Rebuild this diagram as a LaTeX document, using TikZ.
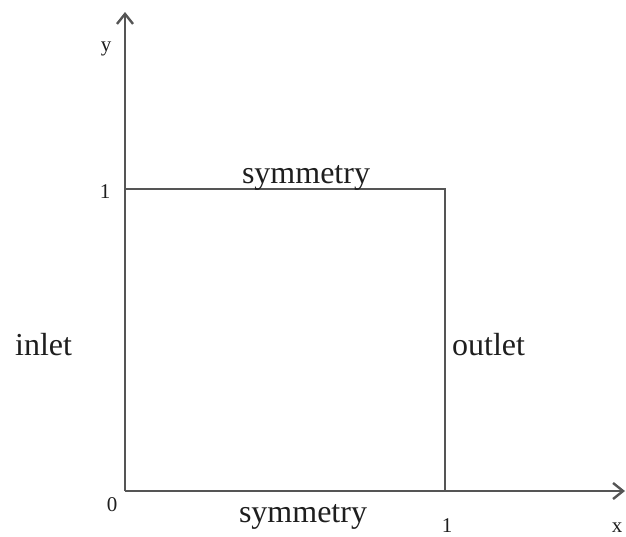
\documentclass[tikz,border=0pt]{standalone}
\usepackage{fontspec}
\setmainfont{Liberation Serif}
\usetikzlibrary{arrows.meta}
\definecolor{axisgray}{RGB}{85,85,85}
\definecolor{textgray}{RGB}{30,30,30}
\begin{document}
\begin{tikzpicture}[x=1pt,y=-1pt,
  axisline/.style={draw=axisgray,line width=2.6pt},
  axisarrow/.style={axisline,-{Straight Barb[length=10pt,width=16pt,line width=2.4pt]}},
  biglabel/.style={inner sep=0pt,anchor=base,text=textgray,font=\fontsize{32}{36}\selectfont},
  smalllabel/.style={inner sep=0pt,anchor=base,text=textgray,font=\fontsize{21}{25}\selectfont}]
\useasboundingbox (0,0) rectangle (626,536);
\coordinate (O) at (125,491);
\coordinate (TL) at (125,189);
\coordinate (TR) at (445,189);
\coordinate (BR) at (445,491);
\coordinate (yend) at (125,12);
\coordinate (xend) at (625,491);
\draw[axisarrow] (O) -- (yend);
\draw[axisarrow] (O) -- (xend);
\draw[axisline] (TL) -- (TR) -- (BR);
\node[smalllabel] (ylab) at (106,51) {y};
\node[smalllabel] (one-y) at (105,198) {1};
\node[smalllabel] (zero) at (112,511) {0};
\node[smalllabel] (one-x) at (447,532) {1};
\node[smalllabel] (xlab) at (617,532) {x};
\node[biglabel] (symtop) at (306,183) {symmetry};
\node[biglabel] (symbot) at (303,522) {symmetry};
\node[biglabel,anchor=base west] (inlet) at (15,355) {inlet};
\node[biglabel,anchor=base west] (outlet) at (452,355) {outlet};
\end{tikzpicture}
\end{document}
